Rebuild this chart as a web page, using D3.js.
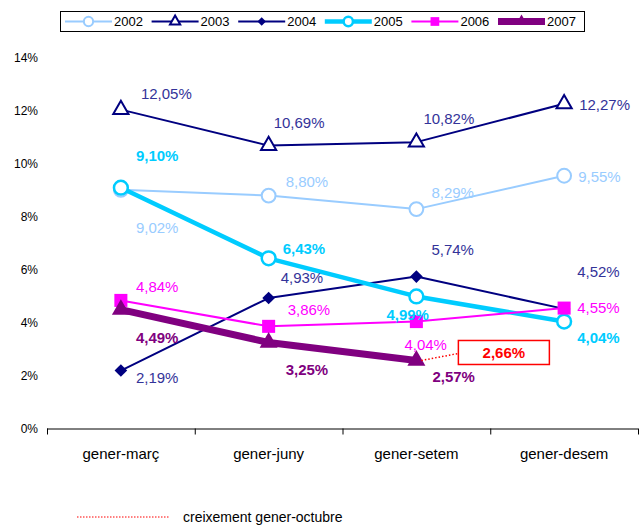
<!DOCTYPE html>
<html>
<head>
<meta charset="utf-8">
<script src="https://cdn.jsdelivr.net/npm/d3@7"></script>
<style>
  body { margin: 0; background: #fff; }
  text { font-family: "Liberation Sans", Arial, sans-serif; }
</style>
</head>
<body>
<div id="chart"></div>
<script>
// categories and series values (percent)
var categories = ["gener-març", "gener-juny", "gener-setem", "gener-desem"];
var years = ["2002", "2003", "2004", "2005", "2006", "2007"];
var v2002 = [9.02, 8.80, 8.29, 9.55];
var v2003 = [12.05, 10.69, 10.82, 12.27];
var v2004 = [2.19, 4.93, 5.74, 4.52];
var v2005 = [9.10, 6.43, 4.99, 4.04];
var v2006 = [4.84, 3.86, 4.04, 4.55];
var v2007 = [4.49, 3.25, 2.57];
var yTicks = [0, 2, 4, 6, 8, 10, 12, 14];
var growthValue = 2.66;
var growthLabel = "creixement gener-octubre";

function init() {
    var w = 644;
    var h = 526;

    var svg = d3.select("#chart").append("svg")
        .attr("width", w)
        .attr("height", h);

    var xScale = d3.scaleBand()
        .domain(categories)
        .range([47, 638]);

    var yScale = d3.scaleLinear()
        .domain([0, 14])
        .range([428.5, 58]);

    var fmt = function(v) { return v.toFixed(2).replace(".", ",") + "%"; };

    // series styling
    var series = [
        { name: "2002", values: v2002, color: "#99CCFF", text: "#99CCFF", width: 2, sym: "circle", fill: "none", size: 150, sw: 2, bold: false,
          off: [[15, 38], [17, -14], [15, -16], [14, 1]] },
        { name: "2003", values: v2003, color: "#000080", text: "#333399", width: 2, sym: "triangle", fill: "none", size: 100, sw: 2, bold: false,
          off: [[20, -16], [5, -23], [7, -23], [15, 1]] },
        { name: "2004", values: v2004, color: "#000080", text: "#333399", width: 2, sym: "diamond", fill: "#000080", size: 80, sw: 0, bold: false,
          off: [[15, 7], [12, -20], [15, -27], [13, -37]] },
        { name: "2005", values: v2005, color: "#00CCFF", text: "#00CCFF", width: 4.5, sym: "circle", fill: "none", size: 150, sw: 2.5, bold: true,
          off: [[15, -32], [14, -10], [-30, 18], [13, 16]] },
        { name: "2006", values: v2006, color: "#FF00FF", text: "#FF00FF", width: 2, sym: "square", fill: "#FF00FF", size: 170, sw: 0, bold: false,
          off: [[15, -14], [19, -17], [-12, 23], [13, 0]] },
        { name: "2007", values: v2007, color: "#800080", text: "#800080", width: 7, sym: "triangle", fill: "#800080", size: 140, sw: 0, bold: true,
          off: [[15, 28], [17, 27], [16, 16]] }
    ];

    function symPath(s, size) {
        var t = s === "circle" ? d3.symbolCircle : s === "triangle" ? d3.symbolTriangle : d3.symbolSquare;
        return d3.symbol().type(t).size(size)();
    }

    // y axis (labels only)
    var yAxis = svg.append("g")
        .attr("transform", "translate(38,0)")
        .call(d3.axisLeft(yScale).tickValues(yTicks).tickSize(0).tickPadding(0)
            .tickFormat(function(d) { return d + "%"; }));
    yAxis.select(".domain").remove();
    yAxis.selectAll("text").attr("font-size", "12px").attr("fill", "#000")
        .style("font-family", "'Liberation Sans', Arial, sans-serif");

    // x axis
    var xAxis = svg.append("g")
        .attr("transform", "translate(0," + yScale(0) + ")")
        .call(d3.axisBottom(xScale).tickSize(0).tickPadding(20));
    xAxis.select(".domain").attr("stroke", "#000").attr("d", "M47,0.5H638");
    xAxis.selectAll("text").attr("font-size", "15px").attr("fill", "#000")
        .style("font-family", "'Liberation Sans', Arial, sans-serif");
    var bounds = categories.map(function(c) { return xScale(c); }).concat([xScale.range()[1]]);
    xAxis.selectAll(".bound").data(bounds).enter().append("line")
        .attr("x1", function(d) { return d + 0.5; })
        .attr("x2", function(d) { return d + 0.5; })
        .attr("y1", 0).attr("y2", 6)
        .attr("stroke", "#000");

    var cx = function(i) { return xScale(categories[i]) + xScale.bandwidth() / 2; };
    var line = d3.line()
        .x(function(d, i) { return cx(i); })
        .y(function(d) { return yScale(d); });

    series.forEach(function(s) {
        var g = svg.append("g");
        g.append("path")
            .attr("d", line(s.values))
            .attr("fill", "none")
            .attr("stroke", s.color)
            .attr("stroke-width", s.width)
            .attr("stroke-linejoin", "round");
        g.selectAll(".m").data(s.values).enter().append("path")
            .attr("d", symPath(s.sym, s.size))
            .attr("transform", function(d, i) {
                return "translate(" + cx(i) + "," + yScale(d) + ")" + (s.sym === "diamond" ? " rotate(45)" : "");
            })
            .attr("fill", s.fill === "none" ? "#fff" : s.fill)
            .attr("stroke", s.color)
            .attr("stroke-width", s.sw);
    });

    // value labels on top
    series.forEach(function(s) {
        svg.append("g").selectAll("text").data(s.values).enter().append("text")
            .attr("x", function(d, i) { return cx(i) + s.off[i][0]; })
            .attr("y", function(d, i) { return yScale(d) + s.off[i][1]; })
            .attr("dy", "0.35em")
            .attr("font-size", "15px")
            .attr("font-weight", s.bold ? "bold" : "normal")
            .attr("fill", s.text)
            .text(fmt);
    });

    // growth annotation for 2007
    var lastI = v2007.length - 1;
    var px = cx(lastI), py = yScale(v2007[lastI]);
    var bx = px + 42, by = py - 20;
    svg.append("line")
        .attr("x1", px + 5).attr("y1", py)
        .attr("x2", bx).attr("y2", py - 7)
        .attr("stroke", "#FF0000").attr("stroke-width", 1.5)
        .attr("stroke-dasharray", "1.5,2");
    svg.append("rect")
        .attr("x", bx).attr("y", by)
        .attr("width", 91).attr("height", 24)
        .attr("fill", "#fff").attr("stroke", "#FF0000").attr("stroke-width", 1.5);
    svg.append("text")
        .attr("x", bx + 45.5).attr("y", by + 12)
        .attr("dy", "0.35em")
        .attr("text-anchor", "middle")
        .attr("font-size", "15px").attr("font-weight", "bold")
        .attr("fill", "#FF0000")
        .text(fmt(growthValue));

    // top legend
    var lg = svg.append("g");
    lg.append("rect")
        .attr("x", 60.5).attr("y", 11.5)
        .attr("width", 524).attr("height", 20)
        .attr("fill", "#fff").attr("stroke", "#000").attr("stroke-width", 1);
    series.forEach(function(s, i) {
        var x0 = 65 + i * 86.6;
        var e = lg.append("g").attr("transform", "translate(" + x0 + ",21.5)");
        e.append("line").attr("x1", 0).attr("x2", 47).attr("y1", 0).attr("y2", 0)
            .attr("stroke", s.color).attr("stroke-width", s.width);
        e.append("path")
            .attr("d", symPath(s.sym, s.size * 0.45))
            .attr("transform", "translate(23.5,0)" + (s.sym === "diamond" ? " rotate(45)" : ""))
            .attr("fill", s.fill === "none" ? "#fff" : s.fill)
            .attr("stroke", s.color)
            .attr("stroke-width", s.sw);
        e.append("text").attr("x", 49).attr("dy", "0.35em")
            .attr("font-size", "13px").attr("fill", "#000")
            .text(years[i]);
    });

    // bottom legend
    svg.append("line")
        .attr("x1", 77).attr("x2", 169).attr("y1", 517).attr("y2", 517)
        .attr("stroke", "#FF0000").attr("stroke-width", 1)
        .attr("stroke-dasharray", "1.5,1.5");
    svg.append("text")
        .attr("x", 183).attr("y", 517)
        .attr("dy", "0.35em")
        .attr("font-size", "14px").attr("fill", "#000")
        .text(growthLabel);
}

window.onload = init;
</script>
</body>
</html>
